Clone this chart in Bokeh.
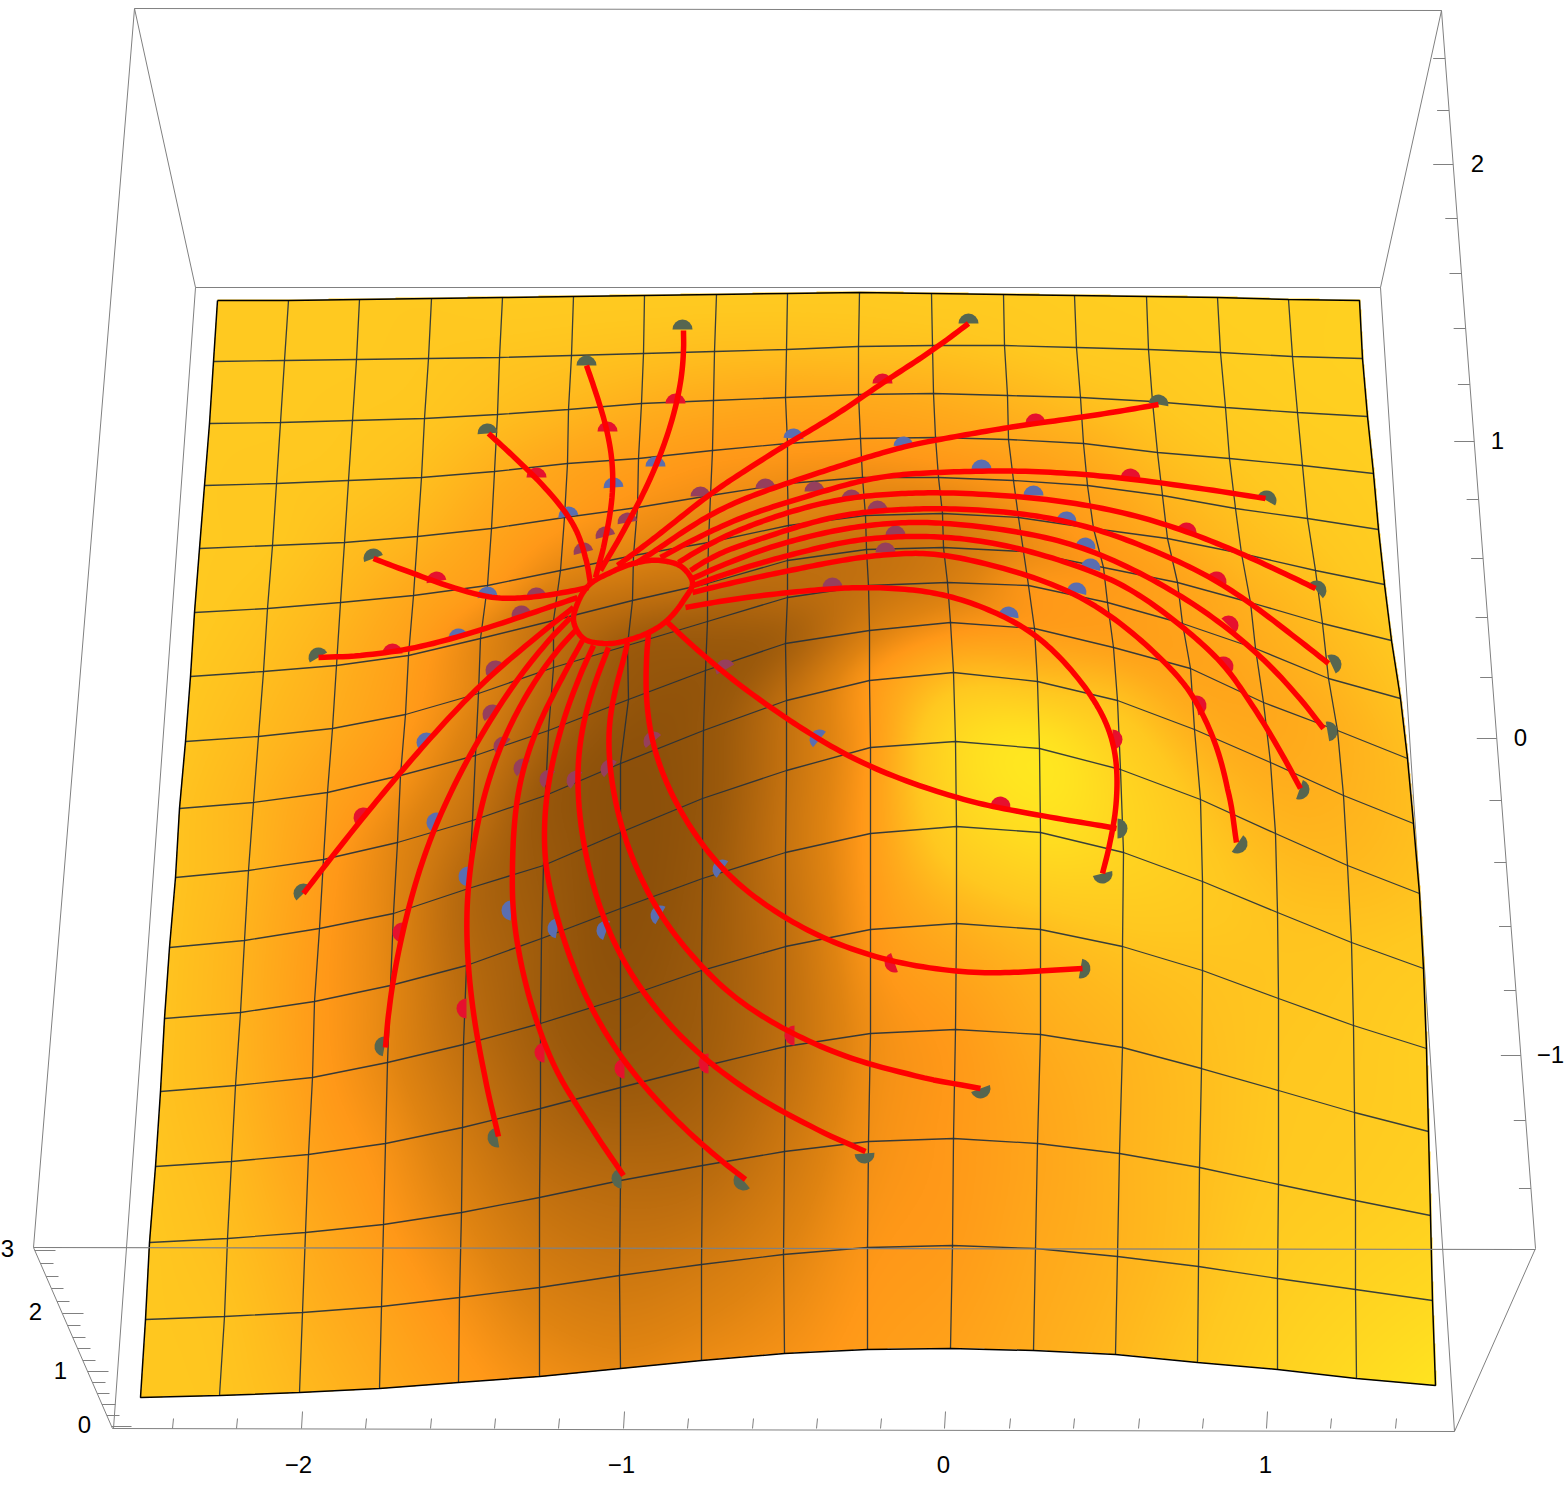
import numpy as np
from bokeh.plotting import figure
from bokeh.models import Range1d
from bokeh.embed import file_html
from bokeh.resources import INLINE
from bokeh.core.properties import value

# ---- surface mesh nodes (pixel positions) ----
node_x = [
[217,288,359,431,502,573,644,716,787,859,931,1003,1074,1146,1217,1288,1359],
[213,284,356,428,499,571,643,714,786,858,932,1004,1076,1148,1220,1292,1362],
[209,280,352,424,497,568,641,713,785,858,933,1007,1080,1152,1225,1297,1367],
[204,276,348,421,494,567,638,712,787,860,935,1008,1083,1157,1229,1302,1373],
[199,272,344,417,491,564,637,710,787,862,938,1013,1087,1162,1235,1307,1378],
[194,267,340,413,487,560,633,708,788,865,942,1018,1093,1167,1241,1315,1384],
[190,263,336,408,480,553,632,707,787,866,943,1023,1103,1177,1250,1322,1391],
[185,258,332,405,478,553,627,707,787,868,947,1028,1107,1182,1255,1328,1400],
[179,253,327,400,475,548,628,705,785,869,950,1034,1113,1190,1263,1337,1407],
[175,248,323,397,472,545,620,703,786,869,953,1037,1117,1194,1270,1343,1413],
[169,244,319,393,468,543,620,702,786,870,955,1039,1120,1200,1275,1347,1419],
[164,240,314,390,466,541,620,702,785,870,956,1040,1123,1202,1277,1351,1423],
[160,235,312,387,463,540,620,701,785,870,956,1040,1122,1202,1278,1353,1426],
[155,231,308,385,462,540,620,702,785,870,955,1040,1122,1201,1278,1354,1428],
[149,227,305,383,461,539,620,702,784,868,953,1037,1119,1199,1278,1355,1430],
[145,224,302,381,459,539,619,701,783,867,952,1035,1117,1198,1277,1355,1432],
[140,219,299,379,458,539,620,701,784,867,950,1033,1115,1197,1277,1356,1435],
]
node_y = [
[300,300,299,298,297,296,295,294,293,292,293,294,295,296,297,299,300],
[361,360,359,358,357,355,353,351,349,346,345,345,347,349,352,356,358],
[423,422,420,418,414,409,403,400,397,394,393,395,397,401,407,412,416],
[485,483,480,477,471,463,458,450,443,438,437,439,443,452,458,465,473],
[548,545,542,536,528,517,507,495,483,477,477,480,485,495,508,518,529],
[612,608,602,595,585,570,555,542,525,515,513,517,528,538,553,570,584],
[676,671,665,655,638,620,600,583,560,549,547,551,567,582,602,623,640],
[741,736,728,714,693,667,645,621,597,585,582,585,602,623,648,678,698],
[808,802,792,775,755,730,699,670,643,630,622,628,647,668,702,730,758],
[877,870,859,842,820,795,763,730,700,680,672,681,700,729,762,795,823],
[947,940,928,913,888,865,832,798,770,747,741,748,769,799,833,865,893],
[1018,1012,1001,985,965,938,908,878,852,833,826,832,852,881,912,942,968],
[1091,1085,1077,1062,1044,1023,998,970,946,929,923,929,946,970,998,1025,1048],
[1166,1161,1154,1143,1127,1108,1087,1066,1046,1033,1029,1034,1047,1068,1090,1112,1131],
[1242,1238,1232,1224,1212,1197,1180,1165,1151,1141,1138,1143,1153,1167,1184,1200,1215],
[1319,1316,1312,1306,1297,1287,1275,1264,1254,1247,1245,1248,1256,1266,1278,1289,1300],
[1397,1395,1392,1388,1382,1376,1368,1360,1353,1349,1348,1350,1354,1362,1369,1378,1385],
]
# colour level (0 dark brown ... 100 bright yellow) at each node
node_level = [
[73,73,73,73,74,74,74,74,74,74,75,75,76,77,78,78,79],
[73,73,73,72,71,70,69,68,68,69,70,72,74,75,77,78,79],
[73,73,72,71,68,65,62,60,59,60,62,65,69,72,75,77,78],
[73,72,71,68,62,57,54,52,52,53,55,58,62,68,72,75,77],
[73,72,68,64,57,52,48,46,45,45,47,51,57,64,69,73,76],
[73,70,65,58,52,42,40,38,38,37,38,46,53,60,66,70,75],
[72,68,62,54,42,28,26,28,27,28,33,44,51,56,62,67,72],
[71,66,60,52,40,24,11,14,22,28,36,49,52,56,60,64,70],
[70,64,56,48,34,17,6,6,14,36,46,52,55,56,58,62,68],
[70,64,53,41,27,8,1,6,26,50,65,68,69,62,60,63,68],
[70,63,52,40,20,9,0,6,28,52,85,95,82,70,65,66,70],
[70,63,52,41,22,11,0,8,29,53,80,90,82,74,70,71,74],
[70,64,53,42,26,12,3,10,26,50,62,68,70,70,71,73,77],
[71,66,56,47,33,18,10,13,26,45,52,60,64,68,72,74,77],
[72,68,60,51,40,28,22,22,32,46,51,57,63,68,73,76,80],
[72,70,63,56,47,37,32,34,40,49,52,58,63,69,76,81,86],
[72,71,66,60,53,46,42,44,47,52,55,60,65,72,80,87,94],
]
level_stops = [0,10,25,40,50,60,72,85,100]
stop_r = [140,156,190,224,255,255,255,255,255]
stop_g = [80,90,110,132,152,172,200,216,236]
stop_b = [10,12,15,18,24,28,32,32,32]

# ---- trajectories (outer end first) ----
traj = [
 [(968,323),(925,355),(882,382),(840,412),(792,440),(745,470),(710,493),(670,525),(640,548),(617,565)],
 [(1158,404),(1100,414),(1035,423),(1008,427),(933,440),(900,447),(850,462),(810,475),(760,492),(710,513),(660,547),(635,563)],
 [(1265,498),(1160,482),(1087,474),(1013,470),(937,472),(900,474),(860,480),(810,495),(760,510),(715,528),(660,557)],
 [(1315,588),(1263,563),(1193,533),(1117,510),(1033,497),(937,492),(900,493),(850,497),(800,508),(750,525),(715,540),(678,562)],
 [(1328,663),(1273,620),(1217,580),(1160,553),(1093,527),(1017,512),(937,508),(900,509),(850,513),(800,525),(750,542),(720,552),(690,570)],
 [(1323,728),(1283,678),(1227,627),(1167,587),(1085,547),(1017,531),(937,522),(900,522),(850,527),(800,538),(750,553),(692,578)],
 [(1300,788),(1267,728),(1245,695),(1223,663),(1180,625),(1133,590),(1090,570),(1000,543),(937,536),(900,536),(850,540),(800,552),(750,565),(693,585)],
 [(1236,842),(1222,760),(1197,703),(1180,678),(1133,633),(1077,593),(1000,567),(937,553),(900,553),(850,558),(800,568),(750,578),(692,592)],
 [(1102,873),(1113,827),(1117,787),(1113,738),(1090,693),(1043,640),(1008,618),(950,595),(900,588),(850,587),(810,590),(743,597),(685,607)],
 [(1116,828),(1100,825),(1000,808),(955,797),(870,767),(817,738),(770,707),(720,670),(667,622)],
 [(1082,968),(1030,971),(980,973),(893,962),(820,937),(765,905),(720,868),(677,807),(650,740),(645,673),(648,633)],
 [(980,1088),(868,1065),(795,1035),(737,1000),(700,965),(657,912),(622,833),(608,760),(610,707),(623,660),(627,642)],
 [(865,1151),(783,1113),(707,1062),(647,1000),(603,923),(577,810),(580,727),(603,660),(608,647)],
 [(745,1179),(702,1145),(640,1083),(587,1005),(550,893),(543,847),(548,777),(570,697),(593,645)],
 [(623,1175),(573,1100),(550,1060),(523,977),(512,910),(512,867),(515,803),(530,743),(551,697),(582,640)],
 [(498,1136),(477,1043),(465,937),(470,860),(488,777),(513,717),(548,660),(575,630)],
 [(385,1047),(390,993),(407,910),(432,830),(477,740),(530,660),(570,617)],
 [(303,893),(360,820),(400,772),(462,702),(507,660),(573,607)],
 [(318,657),(390,653),(463,635),(530,613),(577,597)],
 [(373,558),(432,580),(487,597),(513,598),(547,595),(588,587)],
 [(488,433),(528,470),(567,513),(582,543),(590,583)],
 [(586,365),(598,400),(613,458),(610,517),(595,577)],
 [(683,330),(683,360),(677,400),(663,447),(640,500),(600,570)],
]
ring = [(588,585),(610,572),(633,563),(660,560),(682,567),(692,582),(683,600),(663,623),(633,638),(603,643),(583,638),(573,620),(577,603)]

# ---- half-disc markers: x, y, facing (deg) ----
green_pts = [(968,323,90),(682,329,90),(586,365,90),(487,433,95),(373,558,110),(318,657,120),(1158,404,80),
 (1266,500,60),(1316,590,40),(1331,664,25),(1327,731,10),(1299,789,-20),(1237,843,-35),(1117,828,0),
 (1102,873,-75),(1080,968,-10),(980,1088,-70),(864,1153,-85),(743,1180,-140),(621,1178,180),(497,1137,-170),(384,1046,170),(303,893,135)]
red_pts = [(882,383,90),(675,403,90),(607,431,90),(536,477,90),(436,581,100),(392,653,90),(1035,423,85),(1130,478,80),
 (1186,532,70),(1216,581,60),(1228,625,45),(1223,666,30),(1196,705,10),(1112,739,0),(1000,806,80),(894,962,200),
 (794,1035,180),(708,1063,180),(624,1068,180),(544,1052,180),(466,1008,180),(402,932,170),(363,817,140)]
blue_pts = [(793,438,85),(903,446,85),(655,466,90),(613,487,95),(568,516,100),(487,596,100),(458,638,105),(426,742,135),
 (436,822,160),(468,876,175),(511,910,175),(557,928,170),(606,930,160),(660,915,150),(722,869,145),(819,739,140),
 (1008,616,80),(1076,592,75),(1090,568,75),(1085,547,80),(1066,521,85),(1033,495,90),(981,469,90)]
mauve_pts = [(700,496,90),(765,488,90),(814,491,90),(851,499,90),(877,510,90),(895,535,90),(885,552,90),(832,587,90),
 (627,522,100),(605,536,105),(583,552,105),(536,597,95),(521,615,105),(495,670,130),(492,714,130),(503,746,135),
 (523,768,140),(549,779,145),(576,780,145),(610,769,140),(653,741,130),(725,669,120)]

# ---- axes ----
bottom_major = [301,623,944,1266]
bottom_minor = [172,236,365,430,494,558,687,752,816,880,1009,1073,1138,1202,1330,1395]
bottom_labels = [("\u22122",298),("\u22121",621),("0",943),("1",1265)]
right_major = [164,441,738,1055]
right_minor = [58,110,218,273,328,384,499,558,617,677,800,862,926,990,1120,1188]
right_labels = [("2",1477,163),("1",1497,440),("0",1520,737),("\u22121",1550,1054)]
left_ticks_y = [1250,1263,1276,1288,1301,1313,1325,1337,1348,1360,1371,1382,1393,1404,1415,1426]
left_ticks_end = [55,53,58,63,69,83,80,85,90,95,108,105,109,115,119,131]
left_labels = [("3",7,1248),("2",35,1311),("1",60,1370),("0",84,1424)]
box_lines = [
 [(134,8),(1441,10)], [(134,8),(195,287)], [(1441,10),(1380,287)], [(195,287),(1380,287)],
 [(195,287),(113,1428)], [(1380,287),(1454,1431)], [(134,8),(33,1247)], [(1441,10),(1535,1248)],
 [(33,1247),(112,1428)], [(112,1428),(1454,1431)], [(1454,1431),(1535,1248)],
]
front_line = [(33,1247),(1535,1249)]

W, H = 1568, 1491
def up(v):
    return H - np.asarray(v, dtype=float)

def smooth(pts, closed=False, n=12, relax=0):
    a = np.array(pts, dtype=float)
    if closed:
        a = np.vstack([a[-1], a, a[0], a[1]])
    t = np.concatenate([[0], np.cumsum(np.hypot(*np.diff(a, axis=0).T))])
    d = np.gradient(a, t, axis=0)
    out = []
    rng = range(1, len(a)-2) if closed else range(len(a)-1)
    for i in rng:
        h = t[i+1]-t[i]
        s = np.linspace(0, 1, n, endpoint=False)[:, None]
        q = ((2*s**3-3*s**2+1)*a[i] + (s**3-2*s**2+s)*h*d[i]
             + (-2*s**3+3*s**2)*a[i+1] + (s**3-s**2)*h*d[i+1])
        out.append(q)
    out.append(a[-2 if closed else -1][None, :])
    q = np.vstack(out)
    if relax:
        # even out small kinks left by hand-read points; the ends stay where they are
        r = q.copy()
        for i in range(len(q)):
            w = min(i, len(q)-1-i, relax)
            r[i] = q[i-w:i+w+1].mean(axis=0)
        q = r
    return q[:, 0].tolist(), up(q[:, 1]).tolist()

def upsample(arr, k):
    # Catmull-Rom resampling of the read node table, both directions
    def along(a):
        n = a.shape[0]
        e = np.vstack([2*a[0]-a[1], a, 2*a[-1]-a[-2]])
        u = np.linspace(0, n-1, (n-1)*k+1)
        i = np.minimum(u.astype(int), n-2)
        s = (u-i)[:, None]
        p0, p1, p2, p3 = e[i], e[i+1], e[i+2], e[i+3]
        return 0.5*((2*p1)+(-p0+p2)*s+(2*p0-5*p1+4*p2-p3)*s**2+(-p0+3*p1-3*p2+p3)*s**3)
    r = along(np.asarray(arr, dtype=float))
    return along(r.T).T

X = np.array(node_x, float); Y = np.array(node_y, float); L = np.array(node_level, float)
k = 130
Xf, Yf, Lf = upsample(X, k), upsample(Y, k), upsample(L, k)
ix = np.clip(np.rint(Xf).astype(int), 0, W-1)
iy = np.clip((H - np.rint(Yf)).astype(int), 0, H-1)
img = np.zeros((H, W), dtype=np.uint32)
view = img.view(np.uint8).reshape((H, W, 4))
view[iy, ix, 0] = np.interp(Lf, level_stops, stop_r)
view[iy, ix, 1] = np.interp(Lf, level_stops, stop_g)
view[iy, ix, 2] = np.interp(Lf, level_stops, stop_b)
view[iy, ix, 3] = 255
# close any pinholes between splatted samples
for _ in range(2):
    a = view[:, :, 3] > 0
    hole = np.zeros_like(a)
    hole[1:-1, 1:-1] = (~a[1:-1, 1:-1]) & ((a[1:-1, :-2] & a[1:-1, 2:]) | (a[:-2, 1:-1] & a[2:, 1:-1]))
    hy, hx = np.nonzero(hole)
    for ch in range(3):
        v = view[:, :, ch].astype(float)
        w = a.astype(float)
        s = v[hy, hx-1]*w[hy, hx-1] + v[hy, hx+1]*w[hy, hx+1] + v[hy-1, hx]*w[hy-1, hx] + v[hy+1, hx]*w[hy+1, hx]
        c = w[hy, hx-1] + w[hy, hx+1] + w[hy-1, hx] + w[hy+1, hx]
        view[hy, hx, ch] = (s/c).astype(np.uint8)
    view[hy, hx, 3] = 255

p = figure(width=1568, height=1491, x_range=Range1d(0, 1568), y_range=Range1d(0, 1491),
           toolbar_location=None, output_backend="svg", min_border=0)
p.axis.visible = False
p.grid.visible = False
p.outline_line_color = None
p.background_fill_color = "white"

GREY = "#808080"
bx = [[a[0], b[0]] for a, b in box_lines]
by = [up([a[1], b[1]]).tolist() for a, b in box_lines]
p.multi_line(bx, by, line_color=GREY, line_width=1)

p.image_rgba(image=[img], x=0, y=0, dw=W, dh=H)

# mesh lines
gx = [X[r].tolist() for r in range(1, 16)] + [X[:, c].tolist() for c in range(1, 16)]
gy = [up(Y[r]).tolist() for r in range(1, 16)] + [up(Y[:, c]).tolist() for c in range(1, 16)]
p.multi_line(gx, gy, line_color="#22303c", line_width=1.3, line_alpha=0.9)
ox = X[0].tolist() + X[:, -1].tolist() + X[-1][::-1].tolist() + X[:, 0][::-1].tolist()
oy = Y[0].tolist() + Y[:, -1].tolist() + Y[-1][::-1].tolist() + Y[:, 0][::-1].tolist()
p.line(ox, up(oy).tolist(), line_color="black", line_width=1.5)

# front box edge crosses over the surface
p.line([a[0] for a in front_line], up([a[1] for a in front_line]).tolist(), line_color=GREY, line_width=1.2)

# ticks
def rx(y):
    return 1441 + (np.asarray(y, float) - 10) * 94 / 1238
tx, ty = [], []
for t in bottom_major:
    tx.append([t, t+1]); ty.append(up([1428, 1411]).tolist())
for t in bottom_minor:
    tx.append([t, t+1]); ty.append(up([1428, 1418]).tolist())
for t in right_major:
    tx.append([float(rx(t)), float(rx(t))-20]); ty.append(up([t, t]).tolist())
for t in right_minor:
    tx.append([float(rx(t)), float(rx(t))-12]); ty.append(up([t, t]).tolist())
for t, e in zip(left_ticks_y, left_ticks_end):
    tx.append([33 + (t-1247)*79/181, e]); ty.append(up([t, t]).tolist())
p.multi_line(tx, ty, line_color=GREY, line_width=1)

# labels
lab_t = [a[0] for a in bottom_labels] + [a[0] for a in right_labels] + [a[0] for a in left_labels]
lab_x = [a[1] for a in bottom_labels] + [a[1] for a in right_labels] + [a[1] for a in left_labels]
lab_y = [1464]*len(bottom_labels) + [a[2] for a in right_labels] + [a[2] for a in left_labels]
p.text(lab_x, up(lab_y).tolist(), text=lab_t, text_align="center", text_baseline="middle",
       text_font=value("Liberation Sans"), text_font_size="24px", text_color="black")

# half-disc markers
for pts, col in [(green_pts, "#566650"), (red_pts, "#E6102E"), (blue_pts, "#5A6EB0"), (mauve_pts, "#963F5C")]:
    xs = [a[0] for a in pts]; ys = up([a[1] for a in pts]).tolist()
    st = [a[2]-90 for a in pts]; en = [a[2]+90 for a in pts]
    p.wedge(xs, ys, radius=10, start_angle=st, end_angle=en, start_angle_units="deg", end_angle_units="deg",
            fill_color=col, line_color=None)

# trajectories
lx, ly = [], []
for t in traj:
    a, b = smooth(t, relax=8); lx.append(a); ly.append(b)
p.multi_line(lx, ly, line_color="#FF0000", line_width=5.5, line_cap="butt", line_join="round")
a, b = smooth(ring, closed=True)
p.line(a, b, line_color="#FF0000", line_width=5.5, line_join="round")

open("out.html", "w").write(file_html(p, INLINE))
